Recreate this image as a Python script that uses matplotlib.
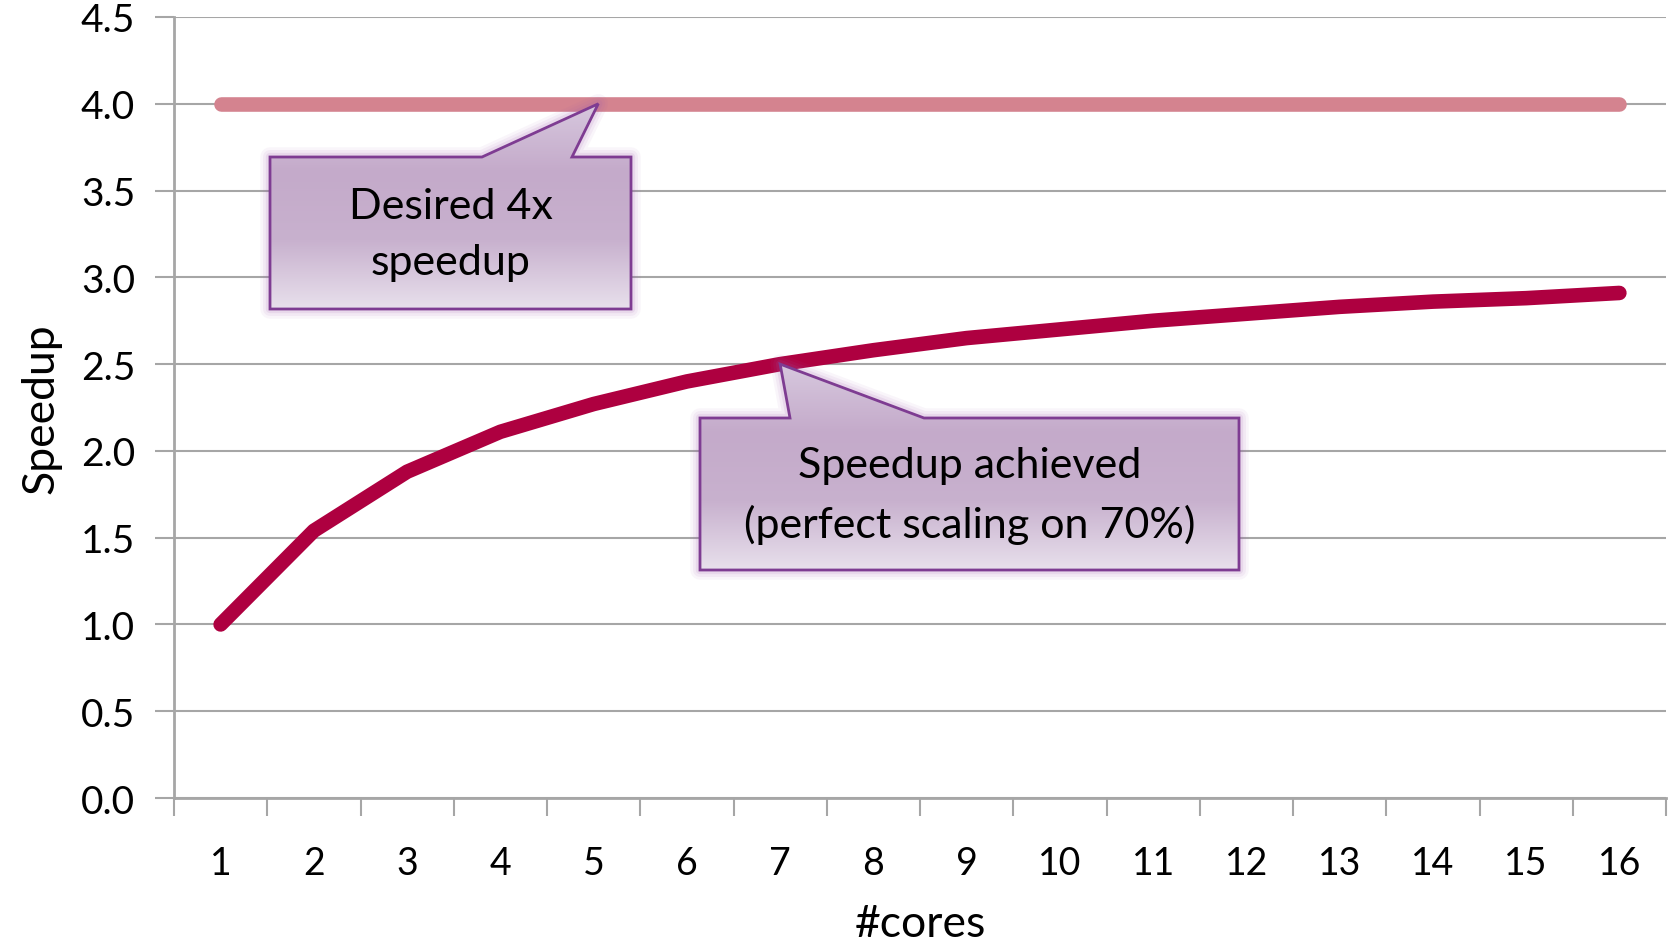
import numpy as np
import matplotlib
matplotlib.use("Agg")
import matplotlib.pyplot as plt
from matplotlib.path import Path
from matplotlib.patches import PathPatch

plt.rcParams['font.family'] = ['Lato', 'DejaVu Sans']

cores = list(range(1, 17))
achieved = [1.0, 1.54, 1.88, 2.11, 2.27, 2.40, 2.50, 2.58, 2.65, 2.70,
            2.75, 2.79, 2.83, 2.86, 2.88, 2.91]
desired = [4.0] * 16
yticks = [0.0, 0.5, 1.0, 1.5, 2.0, 2.5, 3.0, 3.5, 4.0, 4.5]
label1 = "Desired 4x\nspeedup"
label2 = "Speedup achieved\n(perfect scaling on 70%)"

W, H = 1675, 945
fig = plt.figure(figsize=(W / 100, H / 100), dpi=100)
ax = fig.add_axes([174 / W, 1 - 799 / H, (1666 - 174) / W, (799 - 18) / H])

grid_c = '#A6A6A6'
ax.set_xlim(0.5, 16.5)
ax.set_ylim(0, 4.5)
ax.set_yticks(yticks)
ax.set_yticklabels([f"{v:.1f}" for v in yticks], fontsize=28)
ax.yaxis.grid(True, color=grid_c, linewidth=1.5)
ax.set_axisbelow(True)
ax.tick_params(axis='y', length=14, width=1.5, color=grid_c, pad=14)
ax.set_xticks(cores)
ax.set_xticklabels([str(c) for c in cores], fontsize=27)
ax.set_xticks(np.arange(0.5, 17, 1), minor=True)
ax.tick_params(axis='x', which='major', length=0, pad=34)
ax.tick_params(axis='x', which='minor', length=13, width=1.5, color=grid_c)
for s in ['top', 'right']:
    ax.spines[s].set_visible(False)
for s in ['left', 'bottom']:
    ax.spines[s].set_color(grid_c)
    ax.spines[s].set_linewidth(2)

ax.plot(cores, desired, color='#D4838F', linewidth=10.5, solid_capstyle='round', zorder=3)
ax.plot(cores, achieved, color='#AE0040', linewidth=10.5, solid_capstyle='round', zorder=3)

ax.set_xlabel("#cores", fontsize=32, labelpad=16)
ax.set_ylabel("Speedup", fontsize=32, labelpad=14)

# overlay axes in pixel coordinates for callouts
ov = fig.add_axes([0, 0, 1, 1], facecolor='none')
ov.set_xlim(0, W)
ov.set_ylim(H, 0)
ov.axis('off')

def to_px(x, y):
    d = ax.transData.transform((x, y))
    return d[0], H - d[1]

grad = np.array([[215, 200, 222], [196, 170, 202], [200, 177, 206], [232, 224, 236]]) / 255.0

def callout(box, base, tip, text):
    x0, x1, y0, y1 = box
    verts = [(x0, y0), (base[0], y0), tip, (base[1], y0), (x1, y0), (x1, y1), (x0, y1), (x0, y0)]
    codes = [Path.MOVETO] + [Path.LINETO] * 6 + [Path.CLOSEPOLY]
    path = Path(verts, codes)
    for lw, a in [(14, 0.06), (10, 0.08), (6, 0.12)]:
        ov.add_patch(PathPatch(path, facecolor='none', edgecolor='#A060B0', linewidth=lw, alpha=a,
                               joinstyle='round', zorder=5))
    n = 200
    t = np.linspace(0, 1, n)
    stops = np.linspace(0, 1, len(grad))
    cols = np.stack([np.interp(t, stops, grad[:, k]) for k in range(3)], axis=1)
    img = np.repeat(cols[:, None, :], 2, axis=1)
    ytop = min(tip[1], y0)
    im = ov.imshow(img, extent=(x0, x1, y1, ytop), aspect='auto', zorder=6, interpolation='bilinear')
    patch = PathPatch(path, facecolor='none', edgecolor='none')
    ov.add_patch(patch)
    im.set_clip_path(patch)
    ov.add_patch(PathPatch(path, facecolor='none', edgecolor='#7E3C92', linewidth=2, zorder=7,
                           joinstyle='miter'))
    ov.text((x0 + x1) / 2, (y0 + y1) / 2 + 1, text, ha='center', va='center', fontsize=31,
            linespacing=1.6, zorder=8, color='black')

tip1 = to_px(5.05, 4.0)
callout((270, 631, 158, 310), (482, 572), tip1, label1)
tip2 = to_px(7.0, 2.5)
callout((700, 1239, 419, 571), (790, 924), tip2, label2)

fig.savefig("out.png", dpi=100)
